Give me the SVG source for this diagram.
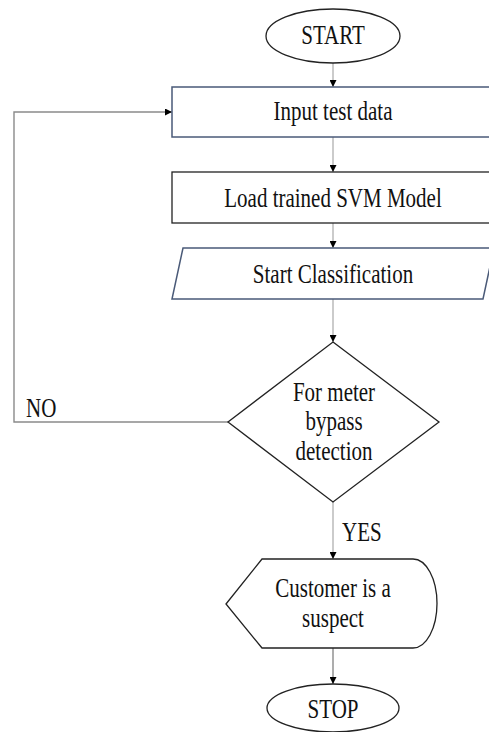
<svg xmlns="http://www.w3.org/2000/svg" width="489" height="732" viewBox="0 0 489 732">
<defs>
<style>
.t{font-family:"Liberation Serif","Times New Roman",serif;font-size:21px;fill:#111;text-anchor:middle}
.tl{font-family:"Liberation Serif","Times New Roman",serif;font-size:21px;fill:#111;text-anchor:start}
.blk{fill:#fff;stroke:#222;stroke-width:1.3}
.blu{fill:#fff;stroke:#4a5a78;stroke-width:1.5}
.c{fill:none;stroke:#a8a8a8;stroke-width:1.2}
.cd{fill:none;stroke:#8a8a8a;stroke-width:1.4}
</style>
<marker id="ah" viewBox="0 0 10 10" refX="10" refY="5" markerWidth="7" markerHeight="7" markerUnits="userSpaceOnUse" orient="auto">
<path d="M0,0 L10,5 L0,10 Z" fill="#000"/>
</marker>
</defs>
<rect width="489" height="732" fill="#fff"/>
<g id="connectors">
<line class="c" x1="333" y1="63" x2="333" y2="87" marker-end="url(#ah)"/>
<line class="c" x1="333" y1="137" x2="333" y2="172" marker-end="url(#ah)"/>
<line class="c" x1="333" y1="223" x2="333" y2="248" marker-end="url(#ah)"/>
<line class="c" x1="333" y1="299" x2="333" y2="342" marker-end="url(#ah)"/>
<line class="c" x1="333" y1="502" x2="333" y2="559" marker-end="url(#ah)"/>
<line class="cd" x1="333" y1="648" x2="333" y2="684" marker-end="url(#ah)"/>
<polyline class="cd" points="228,422 14,422 14,112 172,112" marker-end="url(#ah)"/>
<text class="tl" transform="translate(26,417) scale(1,1.3)">NO</text>
<text class="tl" transform="translate(342,541) scale(1,1.3)">YES</text>
</g>
<g id="start">
<ellipse class="blk" cx="333" cy="36" rx="67" ry="27"/>
<text class="t" transform="translate(333,44) scale(1,1.3)">START</text>
</g>
<g id="input">
<rect class="blu" x="172" y="87" width="330" height="50"/>
<text class="t" transform="translate(333,120) scale(1,1.3)">Input test data</text>
</g>
<g id="load">
<rect class="blk" x="172" y="172" width="330" height="51"/>
<text class="t" transform="translate(333,207) scale(1,1.3)">Load trained SVM Model</text>
</g>
<g id="classify">
<polygon class="blu" points="183,248 494,248 483,299 172,299"/>
<text class="t" transform="translate(333,283) scale(1,1.3)">Start Classification</text>
</g>
<g id="decision">
<polygon class="blk" points="333,342 439,422 333,502 228,422"/>
<text class="t" transform="translate(334,401) scale(1,1.3)">For meter</text>
<text class="t" transform="translate(334,430) scale(1,1.3)">bypass</text>
<text class="t" transform="translate(334,460) scale(1,1.3)">detection</text>
</g>
<g id="suspect">
<path class="blk" d="M226,604 L262,559 L413,559 A24,44.5 0 0 1 413,648 L262,648 Z"/>
<text class="t" transform="translate(333,597) scale(1,1.3)">Customer is a</text>
<text class="t" transform="translate(333,627) scale(1,1.3)">suspect</text>
</g>
<g id="stop">
<ellipse class="blk" cx="333" cy="708" rx="66" ry="24"/>
<text class="t" transform="translate(333,718) scale(1,1.3)">STOP</text>
</g>
</svg>
